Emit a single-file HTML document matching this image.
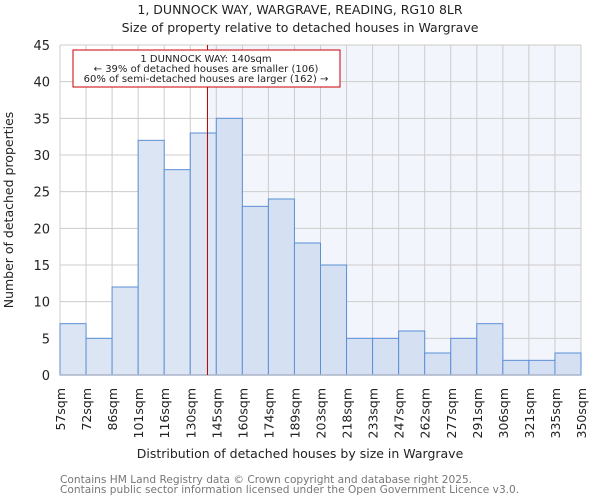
<!DOCTYPE html>
<html><head><meta charset="utf-8"><style>
body{margin:0;background:#fff;}
svg{display:block;font-family:"DejaVu Sans","Liberation Sans",sans-serif;}
</style></head><body>
<svg id="c" width="600" height="500">
<text x="300" y="14" text-anchor="middle" font-size="12.5" fill="#222">1, DUNNOCK WAY, WARGRAVE, READING, RG10 8LR</text>
<text x="300" y="32" text-anchor="middle" font-size="12.5" fill="#222">Size of property relative to detached houses in Wargrave</text>
<g id="g"></g>
<text x="300" y="458" text-anchor="middle" font-size="12.5" fill="#222">Distribution of detached houses by size in Wargrave</text>
<text transform="translate(13,210) rotate(-90)" text-anchor="middle" font-size="12.5" fill="#222">Number of detached properties</text>
<text x="60" y="483" font-size="10.6" fill="#777">Contains HM Land Registry data © Crown copyright and database right 2025.</text>
<text x="60" y="493" font-size="10.6" fill="#777">Contains public sector information licensed under the Open Government Licence v3.0.</text>
</svg>
<script>
const categories=["57sqm","72sqm","86sqm","101sqm","116sqm","130sqm","145sqm","160sqm","174sqm","189sqm","203sqm","218sqm","233sqm","247sqm","262sqm","277sqm","291sqm","306sqm","321sqm","335sqm","350sqm"];
const counts=[7,5,12,32,28,33,35,23,24,18,15,5,5,6,3,5,7,2,2,3];
const yTicks=[0,5,10,15,20,25,30,35,40,45];
const propertyBinPos=[5.66];
const NS="http://www.w3.org/2000/svg";
const g=document.getElementById('g');
const L=60,R=581,T=45,B=375,yMax=45;
const bw=(R-L)/counts.length;
const x=i=>L+i*bw;
const y=v=>B-(v/yMax)*(B-T);
function mk(t,a,p){const e=document.createElementNS(NS,t);for(const k in a)e.setAttribute(k,a[k]);(p||g).appendChild(e);return e;}
const px=x(propertyBinPos[0]);
let e=mk('rect',{x:L,y:T,width:R-L,height:B-T,fill:'#fff'});


e=mk('rect',{x:px,y:T,width:R-px,height:B-T,fill:'#f3f5fc'});


yTicks.forEach(v=>{
 e=mk('line',{x1:L,x2:R,y1:y(v),y2:y(v),stroke:'#ccc','stroke-width':1});
 
 
 e=mk('text',{x:L-10,y:y(v)+5,'text-anchor':'end','font-size':13,fill:'#222'});
 e.textContent=v;
 
 
});
categories.forEach((c,i)=>{
 e=mk('line',{x1:x(i),x2:x(i),y1:T,y2:B,stroke:'#ccc','stroke-width':1});
 
 
 e=mk('text',{transform:`translate(${x(i)+5},388) rotate(-90)`,'text-anchor':'end','font-size':12.5,fill:'#222'});
 e.textContent=c;
 
 
});
counts.forEach((v,i)=>{
 e=mk('rect',{x:x(i),y:y(v),width:bw,height:B-y(v),fill:x(i)>=px?'#d6e0f3':'#dce5f3',stroke:'#5b8fd6','stroke-width':1});
 
 
});
e=mk('line',{x1:L,x2:R,y1:B,y2:B,stroke:'#aab4c8','stroke-width':1.5});


e=mk('line',{x1:px,x2:px,y1:T,y2:B,stroke:'#a00','stroke-width':1});


const ann=mk('g',{});


mk('rect',{x:73,y:50,width:267,height:37,fill:'#fff',stroke:'#c00','stroke-width':1},ann);
["1 DUNNOCK WAY: 140sqm","← 39% of detached houses are smaller (106)","60% of semi-detached houses are larger (162) →"].forEach((s,i)=>{
 const t=mk('text',{x:206,y:62+i*10,'text-anchor':'middle','font-size':10,fill:'#222'},ann);
 t.textContent=s;
});
</script>
</body></html>
